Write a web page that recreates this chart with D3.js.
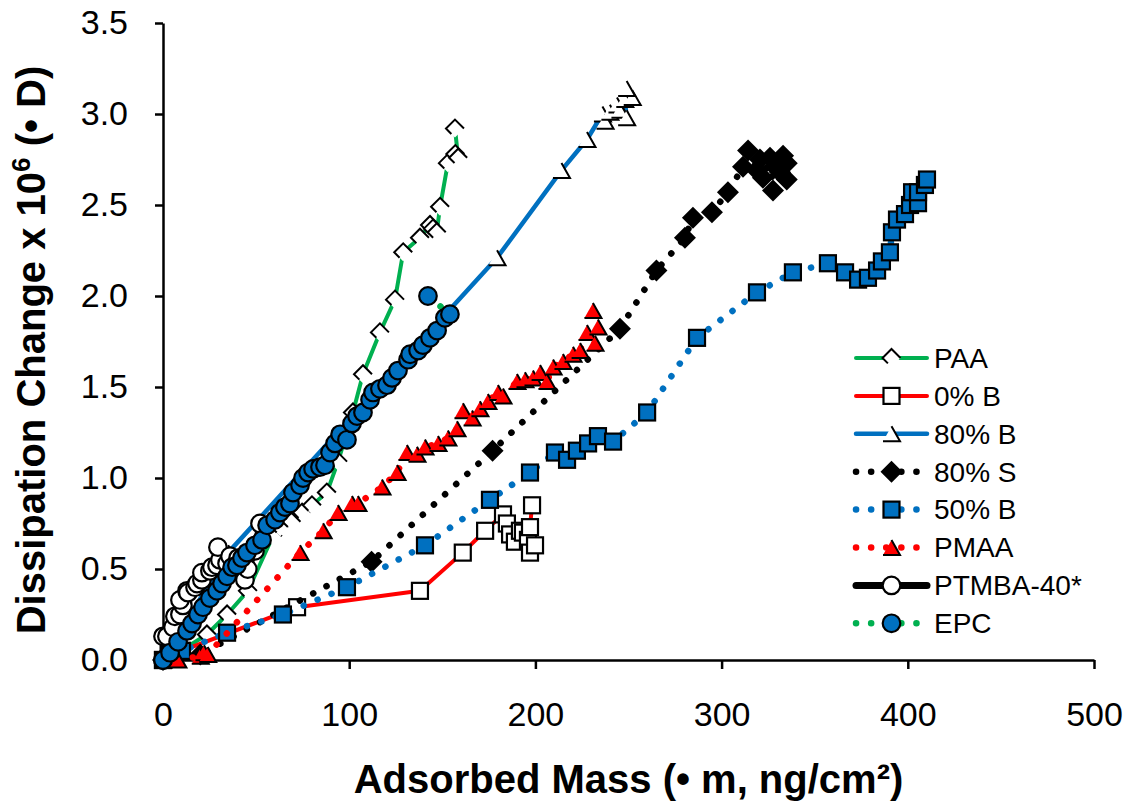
<!DOCTYPE html>
<html>
<head>
<meta charset="utf-8">
<script src="https://cdn.jsdelivr.net/npm/d3@7"></script>
<style>
  body { margin: 0; background: #fff; }
  svg { display: block; }
</style>
</head>
<body>
<div id="chart"></div>
<script>
/**
 * CONSTANTS AND GLOBALS
 * */
const width = 1136,
  height = 807,
  margin = { top: 23, bottom: 147, left: 163, right: 42 };
const font = "'Liberation Sans', Arial, sans-serif";

// ticks
const xTicks = [0, 100, 200, 300, 400, 500];
const yTicks = [0, 0.5, 1.0, 1.5, 2.0, 2.5, 3.0, 3.5];

/**
 * DATA  [adsorbed mass, dissipation change]
 * */
const paa = [[0,0],[8,0.04],[23.6,0.14],[34.4,0.25],[45.6,0.38],[59,0.68],[63,0.73],[69,0.76],
  [74.7,0.81],[80,0.85],[88,0.92],[94,1.09],[102,1.36],[107.4,1.57],[116.5,1.80],[124.6,1.98],
  [129,2.24],[138,2.32],[143.4,2.39],[145,2.37],[147,2.35],[148.8,2.49],[153,2.73],[157,2.78],
  [158.5,2.76],[156.8,2.92]];

const b0 = [[0,0],[10,0.05],[72,0.29],[138,0.38],[161,0.59],[173,0.71],[182.6,0.80],[184.7,0.75],
  [186.4,0.69],[189,0.65],[191.7,0.71],[193.3,0.70],[196,0.66],[197.1,0.59],[199.8,0.63],
  [197.1,0.73],[198.2,0.85]];

const b80 = [[0,0],[35,0.59],[179.4,2.21],[214,2.69],[227.7,2.86],[236,3.00],[237.4,2.96],[240,3.01],
  [243.8,3.05],[245.4,3.02],[249,2.98],[248,3.08],[252,3.09],[249,3.14]];

const s80 = [[0,0],[20,0.03],[112,0.54],[177,1.15],[245.4,1.82],[265,2.14],[280.3,2.32],[284.6,2.43],
  [294.8,2.46],[303.4,2.57],[311.5,2.71],[314.2,2.80],[319,2.69],[320.6,2.75],[322.2,2.65],
  [326,2.76],[327.6,2.58],[328.7,2.71],[331.4,2.68],[333,2.77],[335,2.73],[335,2.64]];

const b50 = [[0,0],[10.2,0.05],[34.4,0.15],[64.4,0.25],[98.8,0.40],[140.7,0.63],[175.6,0.88],
  [197.1,1.03],[210.5,1.14],[217,1.10],[222.3,1.15],[228.3,1.19],[233.6,1.23],[241.7,1.20],
  [260,1.36],[286.8,1.77],[319,2.02],[338.3,2.13],[357.1,2.18],[366.3,2.13],[373.3,2.09],
  [378.6,2.10],[383.5,2.14],[386.1,2.19],[390.4,2.24],[391.5,2.35],[394.2,2.42],[398.5,2.45],
  [401.2,2.50],[402.3,2.57],[405.5,2.51],[405.5,2.57],[409.2,2.61],[410.3,2.64]];

const pmaa = [[8,0],[20,0.02],[22,0.04],[24,0.03],[73.6,0.59],[86,0.71],[94,0.81],[101.5,0.86],
  [104.7,0.86],[117.6,0.95],[125.7,1.03],[131,1.14],[136.4,1.13],[140.7,1.17],[147.7,1.19],
  [153,1.22],[157.9,1.27],[161.1,1.37],[166,1.33],[170.2,1.38],[174.5,1.42],[179.9,1.47],
  [182.6,1.45],[190.1,1.53],[194.4,1.54],[198.7,1.55],[202.5,1.58],[206.2,1.53],[209.5,1.61],
  [214.8,1.64],[220.2,1.68],[224,1.70],[227.7,1.80],[232,1.74],[233.6,1.83],[230.9,1.92]];

const ptmba = [[0,0],[0,0.13],[2.1,0.13],[5.4,0.18],[6.4,0.24],[9.1,0.25],[10.7,0.30],[9.1,0.33],
  [12.9,0.38],[13.4,0.37],[17.2,0.40],[18.3,0.42],[20.9,0.44],[20.9,0.48],[25.2,0.49],[26.3,0.51],
  [29,0.52],[30.6,0.55],[29.5,0.62],[34.4,0.53],[36,0.57],[40.3,0.56],[41.4,0.49],[44,0.44],
  [45.5,0.50],[49.4,0.60],[52.1,0.75]];

const epc = [[0,0],[3.8,0.04],[8.1,0.10],[12.9,0.16],[15.6,0.20],[18.8,0.25],[21.5,0.29],[25.2,0.34],
  [29,0.38],[31.7,0.42],[34.4,0.46],[37.1,0.51],[39.7,0.52],[42.4,0.56],[45.1,0.59],[49.4,0.63],
  [53.2,0.66],[55.9,0.74],[60.2,0.77],[62.8,0.81],[65.5,0.84],[68.2,0.86],[69.8,0.92],[73.6,0.96],
  [75.2,1.00],[77.9,1.03],[80.6,1.05],[84.3,1.06],[87,1.07],[89.7,1.14],[92.4,1.19],[95.1,1.24],
  [98.8,1.21],[101.5,1.30],[104.2,1.34],[107.4,1.36],[111.2,1.43],[112.8,1.47],[116.5,1.49],
  [120.3,1.51],[123,1.55],[126.2,1.59],[131.6,1.65],[132.7,1.68],[137,1.70],[139.6,1.73],
  [143.4,1.77],[147.2,1.81],[151.4,1.88],[154.1,1.90],[142.3,2.00]];

const seriesNames = ["PAA", "0% B", "80% B", "80% S", "50% B", "PMAA", "PTMBA-40*", "EPC"];
const seriesData = [paa, b0, b80, s80, b50, pmaa, ptmba, epc];

// styles per series
const styles = [
  { color: "#00B050", dotted: false, lw: 4, marker: "paaDiamond" },
  { color: "#FF0000", dotted: false, lw: 4, marker: "whiteSquare" },
  { color: "#0070C0", dotted: false, lw: 4.5, marker: "openTriangle" },
  { color: "#000000", dotted: true, lw: 6.5, marker: "blackDiamond" },
  { color: "#0070C0", dotted: true, lw: 6.5, marker: "blueSquare" },
  { color: "#FF0000", dotted: true, lw: 6.5, marker: "redTriangle" },
  { color: "#000000", dotted: false, lw: 7, marker: "whiteCircle" },
  { color: "#00B050", dotted: true, lw: 6.5, marker: "blueCircle" },
];

let svg, x, y;

function init() {
  svg = d3.select("#chart").append("svg")
    .attr("width", width)
    .attr("height", height);

  x = d3.scaleLinear().domain([0, 500]).range([margin.left, width - margin.right]);
  y = d3.scaleLinear().domain([0, 3.5]).range([height - margin.bottom, margin.top]);

  // axes
  const xAxis = svg.append("g")
    .attr("transform", `translate(0,${y(0)})`)
    .call(d3.axisBottom(x).tickValues(xTicks).tickSize(9).tickSizeOuter(0).tickPadding(33));
  const yAxis = svg.append("g")
    .attr("transform", `translate(${x(0)},0)`)
    .call(d3.axisLeft(y).tickValues(yTicks).tickFormat(d3.format(".1f"))
      .tickSize(8).tickSizeOuter(0).tickPadding(27));

  [xAxis, yAxis].forEach(a => {
    a.select(".domain").attr("stroke", "#000").attr("stroke-width", 2.5);
    a.selectAll(".tick line").attr("stroke", "#000").attr("stroke-width", 2.5);
    a.selectAll("text").attr("font-family", font).attr("font-size", 34).attr("fill", "#000");
  });

  // axis titles
  const xt = svg.append("text")
    .attr("x", (x(0) + x(500)) / 2)
    .attr("y", 793)
    .attr("text-anchor", "middle")
    .attr("font-family", font).attr("font-weight", "bold").attr("font-size", 40);
  xt.append("tspan").text("Adsorbed Mass (• m, ng/cm²)");

  const yt = svg.append("text")
    .attr("transform", `translate(45,350) rotate(-90)`)
    .attr("text-anchor", "middle")
    .attr("font-family", font).attr("font-weight", "bold").attr("font-size", 40);
  yt.append("tspan").text("Dissipation Change x 10");
  yt.append("tspan").attr("font-size", 26).attr("dy", -15).text("6");
  yt.append("tspan").attr("dy", 15).text(" (• D)");

  draw();
}

// marker shapes
function drawMarker(g, type) {
  if (type === "paaDiamond") {
    const s = 9;
    g.append("path").attr("d", `M0,${-s}L${s},0L0,${s}L${-s},0Z`).attr("fill", "#fff");
    g.append("path").attr("d", `M${s},0L0,${-s}L${-s},0L${-s * 0.4},${s * 0.6}`)
      .attr("fill", "none").attr("stroke", "#000").attr("stroke-width", 2);
  } else if (type === "whiteSquare" || type === "blueSquare") {
    g.append("rect").attr("x", -8).attr("y", -8).attr("width", 16).attr("height", 16)
      .attr("fill", type === "whiteSquare" ? "#fff" : "#0070C0")
      .attr("stroke", "#000").attr("stroke-width", 2.2);
  } else if (type === "openTriangle" || type === "redTriangle") {
    const w = 8.5, h = 7.5;
    g.append("path").attr("d", `M0,${-h}L${w},${h}L${-w},${h}Z`)
      .attr("fill", type === "openTriangle" ? "#fff" : "#FF0000");
    g.append("path").attr("d", `M0,${-h}L${w},${h}L${-w},${h}`)
      .attr("fill", "none").attr("stroke", "#000").attr("stroke-width", 2);
  } else if (type === "blackDiamond") {
    const s = 11;
    g.append("path").attr("d", `M0,${-s}L${s},0L0,${s}L${-s},0Z`).attr("fill", "#000");
  } else if (type === "whiteCircle" || type === "blueCircle") {
    g.append("circle").attr("r", 8.8)
      .attr("fill", type === "whiteCircle" ? "#fff" : "#0070C0")
      .attr("stroke", "#000").attr("stroke-width", 2.2);
  }
}

function styleLine(p, st) {
  p.attr("fill", "none")
    .attr("stroke", st.color)
    .attr("stroke-width", st.lw)
    .attr("stroke-linecap", "round")
    .attr("stroke-linejoin", "round");
  if (st.dotted) p.attr("stroke-dasharray", "0.1 15");
}

function draw() {
  const line = d3.line().x(d => x(d[0])).y(d => y(d[1]));

  seriesData.forEach((data, i) => {
    const st = styles[i];
    const g = svg.append("g").attr("class", "series");
    styleLine(g.append("path").attr("d", line(data)), st);
    g.selectAll("g.pt")
      .data(data)
      .join("g")
      .attr("class", "pt")
      .attr("transform", d => `translate(${x(d[0])},${y(d[1])})`)
      .each(function () { drawMarker(d3.select(this), st.marker); });
  });

  // legend
  const legend = svg.append("g").attr("transform", "translate(856,358)");
  seriesNames.forEach((name, i) => {
    const st = styles[i];
    const row = legend.append("g").attr("transform", `translate(0,${i * 37.9})`);
    styleLine(row.append("line").attr("x1", 0).attr("x2", 71).attr("y1", 0).attr("y2", 0), st);
    drawMarker(row.append("g").attr("transform", "translate(35.5,0)"), st.marker);
    row.append("text")
      .attr("x", 78).attr("y", 0).attr("dy", "0.35em")
      .attr("font-family", font).attr("font-size", 28)
      .text(name);
  });
}

init();
</script>
</body>
</html>
